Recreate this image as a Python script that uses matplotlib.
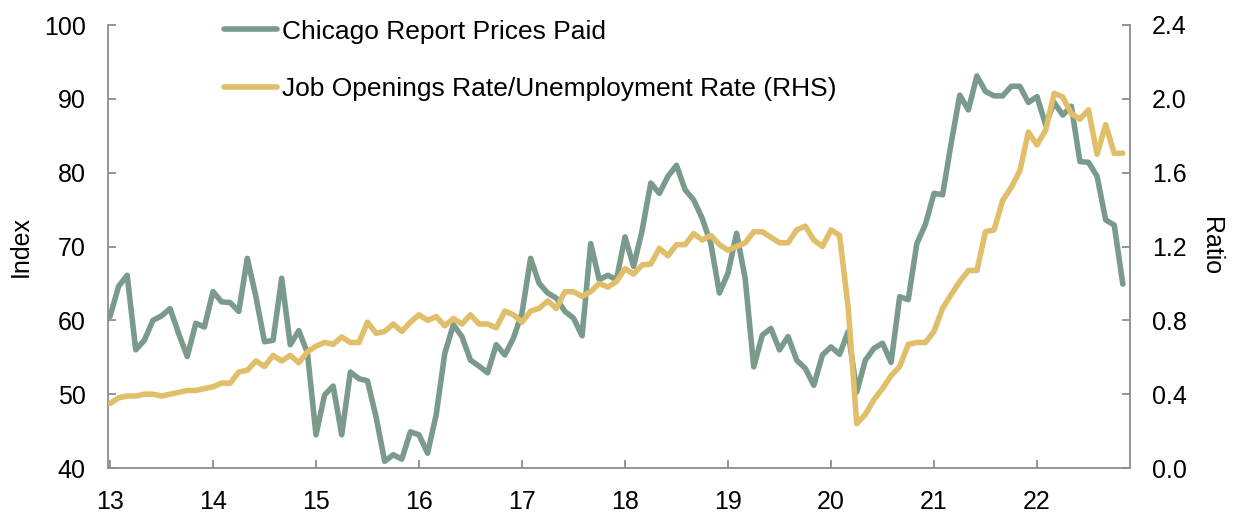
import numpy as np
import matplotlib
matplotlib.use('Agg')
import matplotlib.pyplot as plt

plt.rcParams['font.family'] = ['Liberation Sans', 'DejaVu Sans']

# Monthly data, Jan 2013 - Nov 2022
start_year = 2013
chicago = [60.5, 64.6, 66.1, 56.0, 57.3, 60.0, 60.6, 61.6, 58.2, 55.1, 59.6, 59.1,   # 2013
           63.9, 62.5, 62.4, 61.2, 68.4, 63.2, 57.1, 57.3, 65.7, 56.7, 58.6, 55.6,   # 2014
           44.5, 49.9, 51.1, 44.5, 53.0, 52.1, 51.8, 46.9, 40.9, 41.8, 41.2, 44.9,   # 2015
           44.5, 42.0, 47.2, 55.5, 59.4, 57.8, 54.6, 53.8, 52.9, 56.7, 55.3, 57.6,   # 2016
           61.0, 68.4, 65.0, 63.7, 63.0, 61.2, 60.3, 57.9, 70.4, 65.5, 66.1, 65.5,   # 2017
           71.3, 67.3, 72.2, 78.6, 77.2, 79.5, 81.0, 77.7, 76.3, 73.8, 70.4, 63.7,   # 2018
           66.4, 71.8, 65.7, 53.7, 58.0, 58.9, 56.0, 57.8, 54.6, 53.5, 51.2, 55.3,   # 2019
           56.4, 55.4, 58.5, 50.3, 54.6, 56.2, 56.9, 54.3, 63.2, 62.8, 70.4, 73.0,   # 2020
           77.2, 77.0, 84.0, 90.5, 88.5, 93.1, 91.0, 90.4, 90.4, 91.7, 91.7, 89.5,   # 2021
           90.3, 86.5, 89.5, 87.8, 89.0, 81.5, 81.4, 79.5, 73.6, 72.9, 64.9]         # 2022

jobs_ratio = [0.35, 0.38, 0.39, 0.39, 0.40, 0.40, 0.39, 0.40, 0.41, 0.42, 0.42, 0.43,
              0.44, 0.46, 0.46, 0.52, 0.53, 0.58, 0.55, 0.61, 0.58, 0.61, 0.57, 0.63,
              0.66, 0.68, 0.67, 0.71, 0.68, 0.68, 0.79, 0.73, 0.74, 0.78, 0.74, 0.79,
              0.83, 0.80, 0.82, 0.77, 0.81, 0.78, 0.83, 0.78, 0.78, 0.76, 0.85, 0.83,
              0.79, 0.85, 0.865, 0.905, 0.865, 0.955, 0.955, 0.93, 0.955, 1.00, 0.98, 1.01,
              1.08, 1.05, 1.10, 1.105, 1.19, 1.15, 1.21, 1.21, 1.27, 1.235, 1.26, 1.21,
              1.18, 1.20, 1.22, 1.28, 1.28, 1.25, 1.22, 1.22, 1.29, 1.31, 1.235, 1.20,
              1.29, 1.26, 0.87, 0.24, 0.29, 0.37, 0.43, 0.50, 0.55, 0.67, 0.68, 0.68,
              0.74, 0.865, 0.94, 1.01, 1.07, 1.07, 1.28, 1.29, 1.45, 1.52, 1.61, 1.82,
              1.75, 1.83, 2.03, 2.01, 1.92, 1.89, 1.94, 1.70, 1.86, 1.705, 1.705]

year_ticks = list(range(2013, 2023))
year_labels = ['13', '14', '15', '16', '17', '18', '19', '20', '21', '22']
left_ticks = [40, 50, 60, 70, 80, 90, 100]
right_ticks = [0.0, 0.4, 0.8, 1.2, 1.6, 2.0, 2.4]

green = '#7a9a8c'
gold = '#e0be6a'
spine_col = '#8c8c8c'

x = start_year + np.arange(len(chicago)) / 12.0

fig = plt.figure(figsize=(12.33, 5.12), dpi=100)
ax = fig.add_axes([108/1233, 44/512, (1130-108)/1233, (468-25)/512])
ax2 = ax.twinx()

l1, = ax.plot(x, chicago, color=green, lw=4.0, solid_capstyle='round',
              label='Chicago Report Prices Paid')
l2, = ax2.plot(x, jobs_ratio, color=gold, lw=4.0, solid_capstyle='round',
               label='Job Openings Rate/Unemployment Rate (RHS)')

ax.set_xlim(2013 - 2/103, 2013 + (1130-110)/103)
ax.set_ylim(40, 100)
ax2.set_ylim(0, 2.4)

ax.set_xticks(year_ticks)
ax.set_xticklabels(year_labels)
ax.set_yticks(left_ticks)
ax2.set_yticks(right_ticks)
ax2.set_yticklabels(['%.1f' % v for v in right_ticks])

for a in (ax, ax2):
    a.spines['top'].set_visible(False)
    for s in ('left', 'right', 'bottom'):
        a.spines[s].set_color(spine_col)
        a.spines[s].set_linewidth(1.3)
    a.tick_params(direction='in', length=6, width=1.3, color=spine_col,
                  labelsize=18, pad=16)
ax.spines['right'].set_visible(False)
ax2.spines['left'].set_visible(False)
ax2.spines['bottom'].set_visible(False)

ax.set_ylabel('Index', fontsize=18, labelpad=8)
ax2.set_ylabel('Ratio', fontsize=18, rotation=270, labelpad=26)

leg = ax2.legend(handles=[l1, l2], loc='upper left', bbox_to_anchor=(0.09, 1.066),
                 frameon=False, fontsize=19, handlelength=2.0, handletextpad=0.2,
                 labelspacing=1.27)

fig.savefig('out.png', dpi=100)
